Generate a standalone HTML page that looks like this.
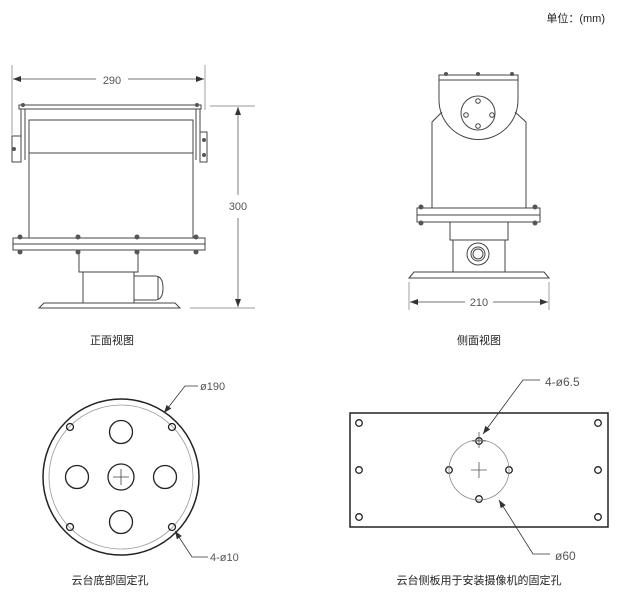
<!DOCTYPE html>
<html><head><meta charset="utf-8"><style>
body{margin:0;background:#fff;}
svg{display:block;font-family:"Liberation Sans","Noto Sans CJK SC",sans-serif;}
</style></head><body>
<svg width="636" height="611" viewBox="0 0 636 611" xmlns="http://www.w3.org/2000/svg">
<defs>
<marker id="a" markerWidth="8" markerHeight="6" refX="8" refY="3" orient="auto-start-reverse" markerUnits="userSpaceOnUse"><path d="M0,0 L8,3 L0,6z" fill="#333"/></marker>
</defs>
<text x="605" y="22" font-size="11" text-anchor="end" fill="#222">单位：(mm)</text>

<!-- FRONT VIEW -->
<g stroke="#444" stroke-width="1" fill="none">
<line x1="12" y1="65" x2="12" y2="135" stroke="#777" stroke-width=".7"/>
<line x1="205" y1="65" x2="205" y2="110" stroke="#777" stroke-width=".7"/>
<line x1="13" y1="79" x2="96" y2="79" marker-start="url(#a)" stroke-width=".7"/>
<line x1="128" y1="79" x2="204" y2="79" marker-end="url(#a)" stroke-width=".7"/>
<rect x="19" y="105" width="182" height="4"/>
<path d="M21 109 V160 M25 109 V160 M196 109 V160 M200 109 V160"/>
<rect x="12" y="136" width="9" height="26"/>
<rect x="200" y="132" width="7" height="30"/>
<rect x="29" y="120" width="164" height="118"/>
<line x1="29" y1="153" x2="193" y2="153"/>
<rect x="13" y="238" width="192" height="12"/>
<line x1="13" y1="244" x2="205" y2="244"/>
<rect x="79" y="250" width="59" height="22"/>
<rect x="83" y="272" width="51" height="31"/>
<path d="M134 276 H155 Q163 276 163 288 Q163 300 155 300 H134"/>
<line x1="158" y1="277" x2="158" y2="299"/>
<path d="M39 308 L44 303 H175 L180 308 Z"/>
<line x1="210" y1="106" x2="255" y2="106" stroke="#777" stroke-width=".7"/>
<line x1="190" y1="308" x2="255" y2="308" stroke="#777" stroke-width=".7"/>
<line x1="238" y1="107" x2="238" y2="195" marker-start="url(#a)" stroke-width=".7"/>
<line x1="238" y1="218" x2="238" y2="307" marker-end="url(#a)" stroke-width=".7"/>
</g>
<g fill="#555">
<circle cx="20" cy="237" r="2.5"/><circle cx="78" cy="237" r="2.5"/><circle cx="137" cy="237" r="2.5"/><circle cx="196" cy="237" r="2.5"/>
<circle cx="20" cy="252" r="2.5"/><circle cx="78" cy="252" r="2.5"/><circle cx="137" cy="252" r="2.5"/><circle cx="196" cy="252" r="2.5"/>
<circle cx="23" cy="105" r="2"/><circle cx="197" cy="105" r="2"/><circle cx="14" cy="149" r="2"/><circle cx="204" cy="140" r="2"/><circle cx="204" cy="155" r="2"/>
</g>
<text x="112" y="84" font-size="11" fill="#555" text-anchor="middle">290</text>
<text x="238" y="210" font-size="11" fill="#555" text-anchor="middle">300</text>
<text x="112" y="344" font-size="11" fill="#222" text-anchor="middle">正面视图</text>

<!-- SIDE VIEW -->
<g stroke="#444" stroke-width="1" fill="none">
<rect x="439" y="75" width="79" height="5"/>
<path d="M439 80 V100 A39.5 39.5 0 0 0 518 100 V80"/>
<path d="M442 112 L432 122 V208 M515 112 L526 122 V208"/>
<circle cx="478" cy="113" r="17"/>
<circle cx="478" cy="101" r="2.3"/><circle cx="478" cy="126" r="2.3"/><circle cx="466" cy="115" r="2.3"/><circle cx="492" cy="115" r="2.3"/>
<rect x="417" y="208" width="123" height="14"/>
<line x1="417" y1="215" x2="540" y2="215"/>
<rect x="450" y="222" width="58" height="18"/>
<rect x="453" y="240" width="52" height="32"/>
<circle cx="478" cy="254" r="11"/><circle cx="478" cy="254" r="7"/><circle cx="478" cy="254" r="5"/>
<path d="M409 278 L414 272 H544 L549 278 Z"/>
<line x1="409" y1="282" x2="409" y2="310" stroke="#777" stroke-width=".7"/>
<line x1="549" y1="282" x2="549" y2="310" stroke="#777" stroke-width=".7"/>
<line x1="410" y1="302" x2="465" y2="302" marker-start="url(#a)" stroke-width=".7"/>
<line x1="493" y1="302" x2="548" y2="302" marker-end="url(#a)" stroke-width=".7"/>
</g>
<g fill="#555">
<circle cx="421" cy="207" r="2.5"/><circle cx="535" cy="207" r="2.5"/><circle cx="421" cy="223" r="2.5"/><circle cx="535" cy="223" r="2.5"/>
<circle cx="446" cy="74" r="2"/><circle cx="478" cy="74" r="2"/><circle cx="512" cy="74" r="2"/>
</g>
<text x="479" y="306" font-size="11" fill="#555" text-anchor="middle">210</text>
<text x="479" y="344" font-size="11" fill="#222" text-anchor="middle">侧面视图</text>

<!-- BOTTOM HOLES -->
<g fill="none">
<circle cx="121" cy="477" r="78" stroke="#222" stroke-width="1.5"/>
<circle cx="121" cy="477" r="72" stroke="#999" stroke-width=".8"/>
<g stroke="#222" stroke-width="1.3">
<circle cx="70" cy="427" r="3.5"/><circle cx="172" cy="427" r="3.5"/><circle cx="70" cy="527" r="3.5"/><circle cx="172" cy="527" r="3.5"/>
<circle cx="121" cy="432" r="11.5"/><circle cx="77" cy="477" r="11.5"/><circle cx="165" cy="477" r="11.5"/><circle cx="121" cy="522" r="11.5"/>
<circle cx="121" cy="477" r="13"/>
</g>
<path d="M113 477 H129 M121 469 V485" stroke="#444" stroke-width=".8"/>
<path d="M198 386 H185 L164 413" stroke="#333" stroke-width=".8" marker-end="url(#a)"/>
<path d="M208 557 H192 L175 531" stroke="#333" stroke-width=".8" marker-end="url(#a)"/>
</g>
<text x="200" y="390" font-size="11" fill="#555">ø190</text>
<text x="210" y="561" font-size="11" fill="#555">4-ø10</text>
<text x="110" y="584" font-size="11" fill="#222" text-anchor="middle">云台底部固定孔</text>

<!-- SIDE PLATE -->
<g fill="none">
<rect x="350" y="413" width="258" height="114" stroke="#222" stroke-width="1.5"/>
<g stroke="#222" stroke-width="1.3">
<circle cx="359" cy="423" r="3.3"/><circle cx="359" cy="470" r="3.3"/><circle cx="359" cy="517" r="3.3"/>
<circle cx="598" cy="423" r="3.3"/><circle cx="598" cy="470" r="3.3"/><circle cx="598" cy="517" r="3.3"/>
<circle cx="479" cy="441" r="3.3"/><circle cx="449" cy="470" r="3.3"/><circle cx="509" cy="470" r="3.3"/><circle cx="479" cy="499" r="3.3"/>
</g>
<circle cx="479" cy="470" r="30" stroke="#888" stroke-width=".8"/>
<path d="M471 470 H487 M479 462 V478 M479 432 V448 M472 441 H486" stroke="#555" stroke-width=".8"/>
<path d="M540 380 H523 L483 434" stroke="#333" stroke-width=".8" marker-end="url(#a)"/>
<path d="M550 554 H533 L499 500" stroke="#333" stroke-width=".8" marker-end="url(#a)"/>
</g>
<text x="545" y="386" font-size="12" fill="#555">4-ø6.5</text>
<text x="555" y="560" font-size="12" fill="#555">ø60</text>
<text x="479" y="584" font-size="11" fill="#222" text-anchor="middle">云台侧板用于安装摄像机的固定孔</text>
</svg>
</body></html>
